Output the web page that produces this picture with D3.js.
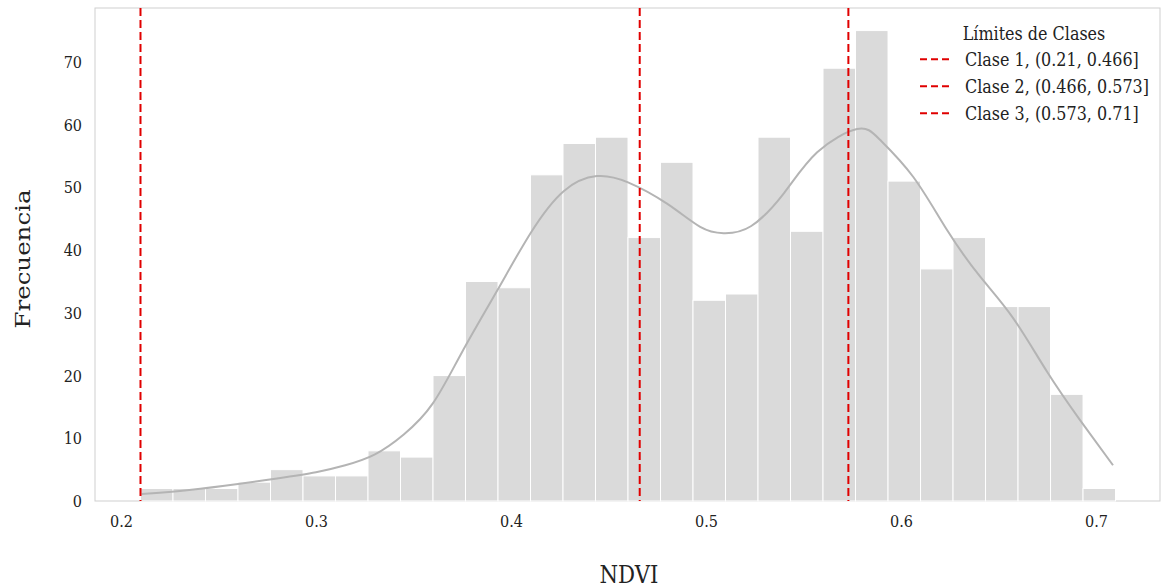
<!DOCTYPE html>
<html><head><meta charset="utf-8">
<script src="https://cdn.jsdelivr.net/npm/d3@7"></script>
<style>body{margin:0;background:#fff}svg text{font-family:"DejaVu Serif",serif;fill:#222}</style>
</head><body><svg id="c" width="1162" height="588"></svg>
<script>
// Histogram: 30 bins from 0.21 to 0.71
const binStart = 0.21, binEnd = 0.71;
const counts = [2,2,2,3,5,4,4,8,7,20,35,34,52,57,58,42,54,32,33,58,43,69,75,51,37,42,31,31,17,2];
// KDE curve points [NDVI, frequency]
const kdeX = [0.2106,0.235,0.26,0.28,0.30,0.315,0.33,0.345,0.36,0.375,0.393,0.41,0.427,0.444,0.46,0.48,0.497,0.509,0.523,0.54,0.557,0.5774,0.5892,0.6062,0.6236,0.6405,0.6574,0.6749,0.6918,0.7087];
const kdeY = [1.1,1.75,2.7,3.6,4.6,5.7,7.4,10.6,15.6,23.8,33.6,42.7,49.4,51.8,50.8,47.4,43.7,42.7,43.8,49.1,55.6,59.3,57.6,51.7,43.2,35.8,29.2,20.6,12.9,5.7];
const limits = [0.21, 0.466, 0.573];
const legendTitle = "Límites de Clases";
const legendLabels = ["Clase 1, (0.21, 0.466]","Clase 2, (0.466, 0.573]","Clase 3, (0.573, 0.71]"];
const xTicks = [0.2,0.3,0.4,0.5,0.6,0.7];
const yTicks = [0,10,20,30,40,50,60,70];

const SX = 0.85; // horizontal squeeze of the reference text
const svg = d3.select("#c");
const L=95,R=1160,T=8,B=501;
const x = d3.scaleLinear().domain([0.18667,0.7328]).range([L,R]);
const y = d3.scaleLinear().domain([0,78.6]).range([B,T]);

svg.append("rect").attr("x",L).attr("y",T).attr("width",R-L).attr("height",B-T)
  .attr("fill","#fff").attr("stroke","#cfcfcf").attr("stroke-width",1);

const w = (binEnd-binStart)/counts.length;
svg.append("g").selectAll("rect").data(counts).join("rect")
  .attr("x",(d,i)=>x(binStart+i*w))
  .attr("width",(d,i)=>x(binStart+(i+1)*w)-x(binStart+i*w))
  .attr("y",d=>y(d)).attr("height",d=>y(0)-y(d))
  .attr("fill","#dadada").attr("stroke","#fff").attr("stroke-width",1);

const pts = kdeX.map((v,i)=>[v,kdeY[i]]);
svg.append("path").datum(pts)
  .attr("d",d3.line().x(d=>x(d[0])).y(d=>y(d[1])).curve(d3.curveNatural))
  .attr("fill","none").attr("stroke","#b4b4b4").attr("stroke-width",2);

svg.append("g").selectAll("line").data(limits).join("line")
  .attr("x1",d=>x(d)).attr("x2",d=>x(d)).attr("y1",T).attr("y2",B)
  .attr("stroke","#e00000").attr("stroke-width",2).attr("stroke-dasharray","8,4");

// axes
const xa = svg.append("g").attr("transform",`translate(0,${B})`)
  .call(d3.axisBottom(x).tickValues(xTicks).tickSize(0).tickPadding(14).tickFormat(d3.format(".1f")));
xa.select(".domain").remove();
xa.selectAll("text").attr("font-size",17).style("font-family","DejaVu Serif").attr("fill","#222")
  .attr("transform",`scale(${SX},1)`);
const ya = svg.append("g").attr("transform",`translate(${L},0)`)
  .call(d3.axisLeft(y).tickValues(yTicks).tickSize(0).tickPadding(13));
ya.select(".domain").remove();
ya.selectAll("text").attr("font-size",17).style("font-family","DejaVu Serif").attr("fill","#222")
  .attr("x",-13/SX).attr("transform",`scale(${SX},1)`);

function label(tx,ty,size,anchor,str,rot){
  return svg.append("text")
    .attr("transform",`translate(${tx},${ty}) scale(${SX},1)`+(rot?` rotate(${rot})`:""))
    .attr("text-anchor",anchor).attr("font-size",size).text(str);
}
label(629,583,25,"middle","NDVI");
label(30,259,24.5,"middle","Frecuencia",-90);

// legend
label(1034,39.5,18.8,"middle",legendTitle);
legendLabels.forEach((t,i)=>{
  const cy = 59.3+i*27;
  svg.append("line").attr("x1",920).attr("x2",952).attr("y1",cy).attr("y2",cy)
    .attr("stroke","#e00000").attr("stroke-width",2).attr("stroke-dasharray","7,4");
  label(965,cy+6.2,18.8,"start",t);
});
</script></body></html>
